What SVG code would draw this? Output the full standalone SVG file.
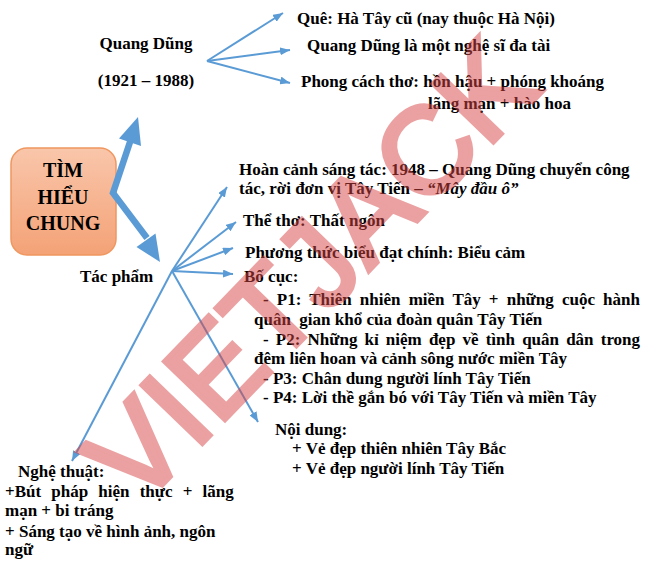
<svg xmlns="http://www.w3.org/2000/svg" width="646" height="568" viewBox="0 0 646 568">
<defs>
<linearGradient id="boxg" x1="0" y1="0" x2="0" y2="1">
<stop offset="0" stop-color="#f9c6ab"/>
<stop offset="1" stop-color="#f4a276"/>
</linearGradient>
<marker id="ah" markerUnits="userSpaceOnUse" markerWidth="10" markerHeight="8" refX="10" refY="4" orient="auto">
<path d="M0,0 L10,4 L0,8 z" fill="#5b9bd5"/>
</marker>
</defs>
<style>
.t{font-family:"Liberation Serif","Times New Roman",serif;font-weight:bold;font-size:17px;fill:#000}
.c{stroke:#5b9bd5;stroke-width:2;fill:none;marker-end:url(#ah)}
.wm{font-family:"Liberation Sans",Arial,sans-serif;font-size:122px;fill:#d94545;stroke:#d94545;stroke-width:5;stroke-linejoin:miter;opacity:0.5}
</style>
<rect width="646" height="568" fill="#fff"/>

<g id="center">
<rect x="11" y="148" width="105" height="107" rx="16" fill="url(#boxg)" stroke="#f0975f" stroke-width="1.5"/>
<text class="t" style="font-size:20px" x="63" y="177" text-anchor="middle">TÌM</text>
<text class="t" style="font-size:20px" x="63" y="204" text-anchor="middle">HIỂU</text>
<text class="t" style="font-size:20px" x="63" y="230" text-anchor="middle">CHUNG</text>
</g>

<g id="connectors">
<path d="M131,139 L113,193 L147,238" stroke="#5b9bd5" stroke-width="6.5" fill="none" stroke-linejoin="miter"/>
<polygon points="138,117 119,138.5 141,146" fill="#5b9bd5"/>
<polygon points="160,262 155.5,233.5 136.5,247" fill="#5b9bd5"/>
<line class="c" x1="207" y1="61" x2="283" y2="13"/>
<line class="c" x1="207" y1="61" x2="290" y2="50"/>
<line class="c" x1="207" y1="61" x2="290" y2="83"/>
<line class="c" x1="172" y1="271" x2="227" y2="187"/>
<line class="c" x1="172" y1="271" x2="236" y2="222"/>
<line class="c" x1="172" y1="271" x2="233" y2="248"/>
<line class="c" x1="172" y1="271" x2="233" y2="274"/>
<line class="c" x1="172" y1="271" x2="258" y2="422"/>
<line class="c" x1="172" y1="271" x2="72" y2="461"/>
</g>

<g id="quang-dung">
<text class="t" x="146" y="49" text-anchor="middle">Quang Dũng</text>
<text class="t" x="146" y="86" text-anchor="middle">(1921 – 1988)</text>
</g>
<g id="que">
<text class="t" x="297" y="24">Quê: Hà Tây cũ (nay thuộc Hà Nội)</text>
</g>
<g id="nghe-si">
<text class="t" x="307" y="51">Quang Dũng là một nghệ sĩ đa tài</text>
</g>
<g id="phong-cach">
<text class="t" x="301" y="87">Phong cách thơ: hồn hậu + phóng khoáng</text>
<text class="t" x="428" y="109">lãng mạn + hào hoa</text>
</g>

<g id="tac-pham">
<text class="t" x="80" y="282">Tác phẩm</text>
</g>
<g id="hoan-canh">
<text class="t" x="239" y="175">Hoàn cảnh sáng tác: 1948 – Quang Dũng chuyển công</text>
<text class="t" x="239" y="194">tác, rời đơn vị Tây Tiến – <tspan font-style="italic">“Mây đầu ô”</tspan></text>
</g>
<g id="the-tho">
<text class="t" x="243" y="226">Thể thơ: Thất ngôn</text>
</g>
<g id="phuong-thuc">
<text class="t" x="245" y="258">Phương thức biểu đạt chính: Biểu cảm</text>
</g>
<g id="bo-cuc">
<text class="t" x="244" y="282">Bố cục:</text>
<text class="t" x="263" y="305" word-spacing="3.9">- P1: Thiên nhiên miền Tây + những cuộc hành</text>
<text class="t" x="254" y="325" xml:space="preserve">quân  gian khổ của đoàn quân Tây Tiến</text>
<text class="t" x="263" y="345" word-spacing="2.9">- P2: Những kỉ niệm đẹp về tình quân dân trong</text>
<text class="t" x="254" y="364">đêm liên hoan và cảnh sông nước miền Tây</text>
<text class="t" x="263" y="384">- P3: Chân dung người lính Tây Tiến</text>
<text class="t" x="263" y="403">- P4: Lời thề gắn bó với Tây Tiến và miền Tây</text>
</g>
<g id="noi-dung">
<text class="t" x="275" y="435">Nội dung:</text>
<text class="t" x="292" y="454">+ Vẻ đẹp thiên nhiên Tây Bắc</text>
<text class="t" x="292" y="474">+ Vẻ đẹp người lính Tây Tiến</text>
</g>
<g id="nghe-thuat">
<text class="t" x="18" y="477">Nghệ thuật:</text>
<text class="t" x="5" y="497" word-spacing="5.9">+Bút pháp hiện thực + lãng</text>
<text class="t" x="5" y="516">mạn + bi tráng</text>
<text class="t" x="5" y="537">+ Sáng tạo về hình ảnh, ngôn</text>
<text class="t" x="5" y="555">ngữ</text>
</g>

<text class="wm" transform="translate(138,510) rotate(-46)">VIETJACK</text>
</svg>
